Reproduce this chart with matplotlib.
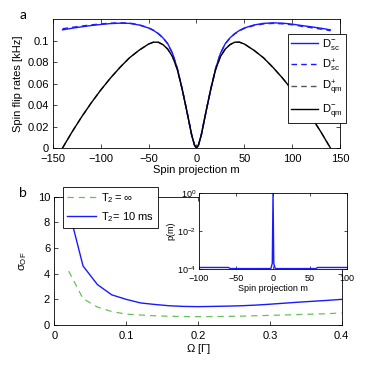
import matplotlib

matplotlib.use("Agg")
import matplotlib.pyplot as plt
from matplotlib.ticker import FixedLocator

# panel a: spin flip rates vs spin projection m
m_vals = [-140, -130, -120, -110, -100, -90, -80, -70, -60, -50, -45, -40, -35, -30,
          -25, -20, -15, -10, -5, -2, 0, 2, 5, 10, 15, 20, 25, 30, 35, 40, 45, 50,
          60, 70, 80, 90, 100, 110, 120, 130, 140]
d_sc_minus = [0.1100, 0.1115, 0.1128, 0.1140, 0.1150, 0.1158, 0.1162, 0.1160, 0.1145,
              0.1117, 0.1095, 0.1065, 0.1025, 0.0970, 0.0880, 0.0740, 0.0550, 0.0340,
              0.0120, 0.0025, 0.0, 0.0025, 0.0120, 0.0340, 0.0550, 0.0740, 0.0880,
              0.0970, 0.1025, 0.1065, 0.1095, 0.1117, 0.1145, 0.1160, 0.1165, 0.1162,
              0.1153, 0.1140, 0.1128, 0.1115, 0.1100]
d_sc_plus = [0.1110, 0.1123, 0.1135, 0.1146, 0.1155, 0.1162, 0.1165, 0.1163, 0.1147,
             0.1118, 0.1096, 0.1066, 0.1026, 0.0970, 0.0880, 0.0740, 0.0550, 0.0340,
             0.0120, 0.0025, 0.0, 0.0025, 0.0120, 0.0340, 0.0550, 0.0740, 0.0880,
             0.0969, 0.1023, 0.1062, 0.1092, 0.1113, 0.1140, 0.1155, 0.1160, 0.1156,
             0.1147, 0.1133, 0.1120, 0.1107, 0.1092]
d_qm_plus = [0.0, 0.0150, 0.0290, 0.0420, 0.0540, 0.0650, 0.0750, 0.0840, 0.0910,
             0.0968, 0.0985, 0.0985, 0.0962, 0.0920, 0.0850, 0.0730, 0.0550, 0.0340,
             0.0120, 0.0025, 0.0, 0.0025, 0.0120, 0.0340, 0.0550, 0.0730, 0.0850,
             0.0920, 0.0962, 0.0985, 0.0985, 0.0968, 0.0910, 0.0840, 0.0750, 0.0650,
             0.0540, 0.0420, 0.0290, 0.0150, 0.0]
d_qm_minus = d_qm_plus

# panel b: sigma_OF vs Omega
omega = [0.02, 0.04, 0.06, 0.08, 0.10, 0.12, 0.14, 0.16, 0.18, 0.20, 0.22, 0.24,
         0.26, 0.28, 0.30, 0.32, 0.34, 0.36, 0.38, 0.40]
sigma_inf = [4.2, 2.05, 1.4, 1.05, 0.85, 0.78, 0.72, 0.68, 0.66, 0.65, 0.66, 0.67,
             0.69, 0.72, 0.75, 0.78, 0.82, 0.85, 0.88, 0.94]
sigma_10ms = [9.0, 4.6, 3.15, 2.35, 2.0, 1.72, 1.6, 1.5, 1.45, 1.43, 1.45, 1.47,
              1.5, 1.55, 1.62, 1.7, 1.78, 1.85, 1.92, 2.0]

# inset: p(m)
m_inset = [-100, -60, -58, -3, -2, -1, 0, 1, 2, 3, 58, 60, 100]
p_inset = [1.2e-4, 1.2e-4, 1.05e-4, 1.05e-4, 1.4e-4, 2e-4, 0.97, 2e-4, 1.4e-4,
           1.05e-4, 1.05e-4, 1.2e-4, 1.2e-4]

BLUE = "#1a1aff"
GREEN = "#6cbf5a"

plt.rcParams.update(
    {
        "font.family": ["Liberation Sans", "DejaVu Sans"],
        "mathtext.default": "regular",
        "font.size": 8,
        "axes.linewidth": 0.6,
        "xtick.direction": "in",
        "ytick.direction": "in",
        "xtick.top": True,
        "ytick.right": True,
        "xtick.major.size": 3,
        "ytick.major.size": 3,
        "xtick.major.width": 0.5,
        "ytick.major.width": 0.5,
    }
)


def style_ticks(ax, size=8, xpad=4, ypad=3):
    ax.tick_params(labelsize=size)
    ax.tick_params(axis="x", pad=xpad)
    ax.tick_params(axis="y", pad=ypad)
    ax.minorticks_off()


def boxed_legend(ax, anchor, loc, **kw):
    leg = ax.legend(
        loc=loc,
        bbox_to_anchor=anchor,
        borderaxespad=0,
        fontsize=8,
        fancybox=False,
        framealpha=1,
        edgecolor="k",
        **kw,
    )
    leg.get_frame().set_linewidth(0.6)
    return leg


fig = plt.figure(figsize=(3.73, 3.78), dpi=100)

# ---- panel a
ax1 = fig.add_axes([0.142, 0.6085, 0.7695, 0.341])
ax1.plot(m_vals, d_sc_minus, color=BLUE, lw=1.0, label=r"$D^{-}_{sc}$")
ax1.plot(m_vals, d_sc_plus, color=BLUE, lw=1.0, ls="--", dashes=(4, 3), label=r"$D^{+}_{sc}$")
ax1.plot(m_vals, d_qm_plus, color="#555555", lw=1.0, ls="--", dashes=(4, 3), label=r"$D^{+}_{qm}$")
ax1.plot(m_vals, d_qm_minus, color="k", lw=1.0, label=r"$D^{-}_{qm}$")
ax1.set_xlim(-150, 150)
ax1.set_ylim(0, 0.12)
ax1.xaxis.set_major_locator(FixedLocator([-150, -100, -50, 0, 50, 100, 150]))
ax1.yaxis.set_major_locator(FixedLocator([0, 0.02, 0.04, 0.06, 0.08, 0.1]))
ax1.set_yticklabels(["0", "0.02", "0.04", "0.06", "0.08", "0.1"])
ax1.set_xticklabels(["\u2212150", "\u2212100", "\u221250", "0", "50", "100", "150"])
style_ticks(ax1)
ax1.set_xlabel("Spin projection m", fontsize=8, labelpad=1)
ax1.set_ylabel("Spin flip rates [kHz]", fontsize=8, labelpad=3)
boxed_legend(ax1, (1.021, 0.884), "upper right",
             handlelength=2.4, handletextpad=0.4, labelspacing=0.45, borderpad=0.3)
fig.text(0.052, 0.96, "a", fontsize=10, family="Lato", va="center")

# ---- panel b
ax2 = fig.add_axes([0.1456, 0.1402, 0.7705, 0.3394])
ax2.plot(omega, sigma_inf, color=GREEN, lw=0.9, ls="--", dashes=(5, 4), label=r"$T_2 = \infty$")
ax2.plot(omega, sigma_10ms, color=BLUE, lw=1.0, label=r"$T_2$= 10 ms")
ax2.set_xlim(0, 0.4)
ax2.set_ylim(0, 10)
ax2.xaxis.set_major_locator(FixedLocator([0, 0.1, 0.2, 0.3, 0.4]))
ax2.set_xticklabels(["0", "0.1", "0.2", "0.3", "0.4"])
ax2.yaxis.set_major_locator(FixedLocator([0, 2, 4, 6, 8, 10]))
style_ticks(ax2)
ax2.set_xlabel(r"$\Omega$ [$\Gamma$]", fontsize=8, labelpad=1)
ax2.set_ylabel(r"$\sigma_{OF}$", fontsize=8, labelpad=6)
boxed_legend(ax2, (0.030, 1.075), "upper left",
             handlelength=2.6, handletextpad=0.5, labelspacing=0.5, borderpad=0.35)
fig.text(0.052, 0.49, "b", fontsize=10, family="Lato", va="center")

# ---- inset
ax3 = fig.add_axes([0.5335, 0.2884, 0.397, 0.201])
ax3.semilogy(m_inset, p_inset, color=BLUE, lw=1.0)
ax3.set_xlim(-100, 100)
ax3.set_ylim(1e-4, 1)
ax3.xaxis.set_major_locator(FixedLocator([-100, -50, 0, 50, 100]))
ax3.set_xticklabels(["\u2212100", "\u221250", "0", "50", "100"])
ax3.yaxis.set_major_locator(FixedLocator([1e-4, 1e-2, 1]))
ax3.set_yticklabels([r"$10^{-4}$", r"$10^{-2}$", r"$10^{0}$"])
ax3.tick_params(which="minor", left=False, right=False)
style_ticks(ax3, size=6.5, xpad=3.5, ypad=2)
ax3.tick_params(length=2)
ax3.set_xlabel("Spin projection m", fontsize=6.5, labelpad=1)
ax3.set_ylabel("p(m)", fontsize=6.5, labelpad=1)

fig.savefig("out.png", dpi=100)
